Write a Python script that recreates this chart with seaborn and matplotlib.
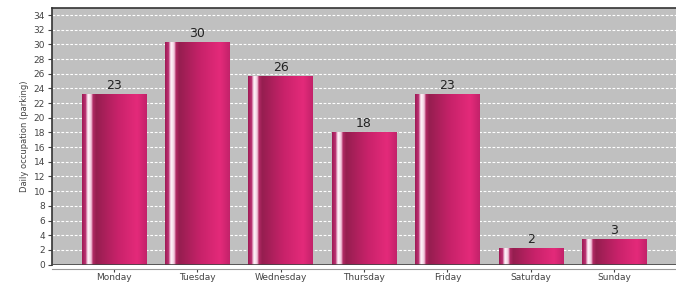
import numpy as np
import pandas as pd
import seaborn as sns
import matplotlib.pyplot as plt
from matplotlib.colors import LinearSegmentedColormap

# 요일별 주차 점유 데이터
days = ['Monday', 'Tuesday', 'Wednesday', 'Thursday', 'Friday', 'Saturday', 'Sunday']
occupation = [23.2, 30.3, 25.7, 18.1, 23.2, 2.2, 3.5]
labels = ['23', '30', '26', '18', '23', '2', '3']

df = pd.DataFrame({'day': days, 'occ': occupation})

sns.set_style('white')
plt.rcParams['font.family'] = ['DejaVu Sans']

fig = plt.figure(figsize=(6.76, 2.86), dpi=100)
ax = fig.add_axes([0.077, 0.075, 0.923, 0.898])
ax.set_facecolor('#c0c0c0')

sns.barplot(data=df, x='day', y='occ', color='#c8206a', width=0.77,
            saturation=1, ax=ax, zorder=3, linewidth=0)

# 막대 그라데이션 (왼쪽 흰 하이라이트)
bar_cmap = LinearSegmentedColormap.from_list('bar', [
    (0.0, '#a01a55'), (0.05, '#b83070'), (0.08, '#f0c8dc'), (0.10, '#fdf4f8'),
    (0.14, '#f2c6dc'), (0.17, '#b02a64'), (0.22, '#961e50'), (0.55, '#c8226a'),
    (0.85, '#e42a7a'), (1.0, '#c3226a')])
grad = np.linspace(0, 1, 512).reshape(1, -1)
for p in ax.patches:
    x0, w, h = p.get_x(), p.get_width(), p.get_height()
    im = ax.imshow(grad, cmap=bar_cmap, aspect='auto', zorder=4,
                   extent=[x0, x0 + w, 0, h], interpolation='nearest')
    im.set_clip_path(p)

for i, (v, t) in enumerate(zip(occupation, labels)):
    ax.text(i, v + 0.3, t, ha='center', va='bottom', fontsize=9, color='#222222', zorder=5)

ax.set_xlim(-0.74, 6.74)
ax.set_ylim(0, 35)
ax.set_yticks(range(0, 35, 2))
ax.yaxis.grid(True, color='white', linestyle=(0, (2.5, 1.5)), linewidth=0.8, zorder=0)
ax.set_axisbelow(True)

ax.set_xlabel('')
ax.set_ylabel('Daily occupation (parking)', fontsize=6, color='#444444', labelpad=3)
ax.tick_params(axis='y', labelsize=6.5, colors='#444444', length=3, left=True, pad=2)
ax.tick_params(axis='x', labelsize=6.5, colors='#444444', length=2, bottom=True, pad=1)

for s in ['top', 'left']:
    ax.spines[s].set_color('#333333')
    ax.spines[s].set_linewidth(1.2)
ax.spines['right'].set_visible(False)
ax.spines['bottom'].set_position(('outward', 3))
ax.spines['bottom'].set_color('#999999')
ax.axhline(0, color='#444444', linewidth=1.2, zorder=6)

fig.savefig('out.png', dpi=100)
